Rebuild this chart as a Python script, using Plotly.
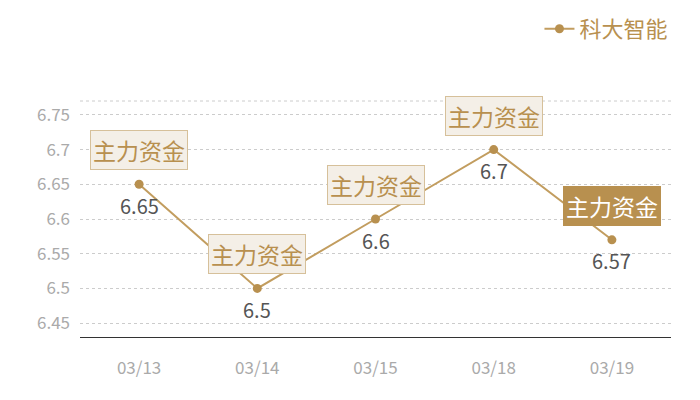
import plotly.graph_objects as go

# Chart data
dates = ["03/13", "03/14", "03/15", "03/18", "03/19"]
prices = [6.65, 6.5, 6.6, 6.7, 6.57]
series_name = "科大智能"
note_text = "主力资金"
highlight_index = 4
y_ticks = [6.45, 6.5, 6.55, 6.6, 6.65, 6.7, 6.75]

GOLD = "#b8904f"
FONT = "Noto Sans CJK SC"

fig = go.Figure()

fig.add_trace(
    go.Scatter(
        x=dates,
        y=prices,
        mode="lines+markers",
        name=series_name,
        line=dict(color="#c29d5f", width=2),
        marker=dict(color=GOLD, size=9),
    )
)

# value labels under the points and "主力资金" tags above them
for i, (d, p) in enumerate(zip(dates, prices)):
    fig.add_annotation(
        x=d,
        y=p,
        text=f"{p:g}",
        showarrow=False,
        yshift=-21,
        font=dict(family=FONT, size=20, color="#555555"),
    )
    hl = i == highlight_index
    fig.add_annotation(
        x=d,
        y=p,
        text=note_text,
        showarrow=False,
        yshift=34,
        font=dict(family=FONT, size=23, color="#ffffff" if hl else GOLD),
        bgcolor=GOLD if hl else "#f4efe7",
        bordercolor=GOLD if hl else "#d6c09a",
        borderwidth=1,
        borderpad=2,
    )

# dotted top border of the plot area
fig.add_shape(
    type="line",
    xref="paper",
    yref="paper",
    x0=0,
    x1=1,
    y0=1,
    y1=1,
    line=dict(color="#cccccc", width=1, dash="dot"),
)

# page body has an 8px margin on the top/left, so the figure is shifted by it
fig.update_layout(
    width=692,
    height=392,
    margin=dict(l=72, r=29, t=93, b=63, autoexpand=False),
    paper_bgcolor="white",
    plot_bgcolor="white",
    font=dict(family=FONT),
    showlegend=True,
    legend=dict(
        xref="container",
        yref="container",
        x=0.768,
        y=1.0,
        xanchor="left",
        yanchor="top",
        orientation="h",
        font=dict(family=FONT, size=22, color=GOLD),
        itemwidth=30,
    ),
)

fig.update_xaxes(
    type="category",
    range=[-0.5, len(dates) - 0.5],
    showgrid=False,
    showline=True,
    linecolor="#333333",
    linewidth=1,
    ticks="",
    tickfont=dict(family=FONT, size=17, color="#aaaaaa"),
    ticklabelstandoff=16,
)

fig.update_yaxes(
    range=[6.43, 6.77],
    tickvals=y_ticks,
    ticktext=[f"{v:g}" for v in y_ticks],
    showgrid=True,
    gridcolor="#cccccc",
    griddash="dot",
    gridwidth=1,
    zeroline=False,
    showline=False,
    tickfont=dict(family=FONT, size=17, color="#aaaaaa"),
    ticklabelstandoff=9,
)

fig.write_html("out.html")
